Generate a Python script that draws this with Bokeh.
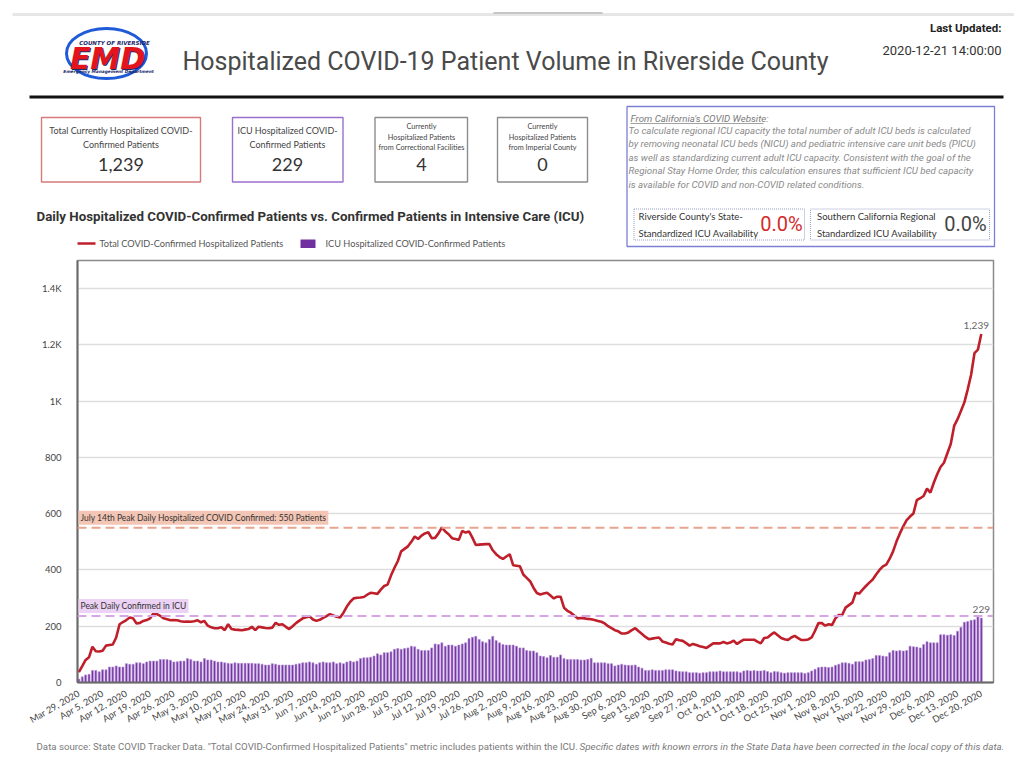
from bokeh.plotting import figure
from bokeh.layouts import column
from bokeh.models import Range1d, FixedTicker, Span, Label
from bokeh.core.properties import value
from bokeh.embed import file_html
from bokeh.resources import INLINE

# ---------------- data (daily, Mar 29 2020 .. Dec 20 2020) ----------------
hospitalized = [
    37, 58, 80, 90, 127, 111, 110,
    113, 131, 133, 135, 160, 207, 215,
    222, 231, 228, 210, 212, 219, 222,
    228, 246, 243, 237, 228, 225, 221,
    222, 221, 218, 216, 217, 216, 218,
    221, 214, 219, 202, 196, 193, 193,
    196, 186, 207, 190, 188, 187, 186,
    188, 190, 198, 186, 198, 196, 194,
    193, 195, 212, 205, 207, 198, 190,
    200, 211, 220, 228, 232, 235, 224,
    219, 223, 230, 236, 243, 238, 234,
    231, 248, 270, 287, 299, 301, 302,
    304, 312, 319, 317, 315, 330, 343,
    348, 380, 407, 431, 466, 475, 484,
    500, 519, 510, 522, 530, 534, 513,
    514, 530, 551, 537, 527, 513, 510,
    507, 539, 533, 537, 515, 489, 490,
    491, 492, 492, 470, 456, 446, 439,
    448, 456, 417, 415, 413, 384, 372,
    360, 337, 318, 313, 316, 319, 309,
    299, 305, 305, 266, 255, 248, 238,
    228, 229, 228, 226, 225, 222, 219,
    216, 210, 200, 193, 186, 182, 174,
    174, 178, 186, 193, 182, 172, 162,
    154, 156, 158, 160, 146, 142, 138,
    135, 154, 150, 148, 140, 131, 137,
    133, 129, 126, 123, 131, 139, 139,
    139, 144, 139, 142, 149, 137, 145,
    152, 152, 152, 152, 145, 139, 158,
    160, 170, 178, 168, 158, 154, 151,
    160, 166, 158, 151, 151, 153, 160,
    184, 211, 211, 202, 207, 204, 228,
    240, 240, 266, 275, 284, 319, 316,
    330, 343, 355, 366, 384, 400, 413,
    419, 440, 466, 501, 530, 555, 577,
    590, 601, 648, 655, 663, 689, 675,
    710, 740, 766, 781, 815, 848, 912,
    936, 965, 995, 1042, 1094, 1171, 1183,
    1239,
]

icu = [
    12, 20, 27, 29, 43, 43, 38, 45, 45, 55,
    55, 59, 55, 55, 67, 65, 65, 70, 70, 67,
    73, 76, 76, 76, 82, 82, 82, 79, 73, 74,
    76, 76, 85, 82, 76, 76, 73, 85, 80, 80,
    76, 73, 73, 70, 68, 67, 70, 68, 68, 68,
    68, 68, 67, 67, 65, 62, 62, 67, 65, 62,
    62, 62, 62, 62, 65, 67, 70, 70, 73, 70,
    65, 70, 73, 70, 70, 73, 67, 70, 67, 73,
    76, 73, 76, 85, 88, 88,
    90, 94, 102, 98, 106, 106, 109, 118, 121, 118,
    121, 123, 129, 127, 118, 114, 114, 114, 123, 137,
    135, 141, 129, 133, 133, 129, 133, 137, 141, 156,
    161, 164, 153, 145, 141, 153, 164, 149, 141, 135,
    133, 133, 133, 129, 123, 123, 114, 112, 112, 106,
    94, 92, 88, 96, 90, 90, 98, 85, 82, 82,
    82, 82, 80, 80, 82, 86, 70, 70, 70, 70,
    67, 67, 59, 62, 65, 62, 61, 61, 62, 55,
    51, 43, 43, 45, 43, 43,
    43, 45, 45, 45, 41, 39, 38, 38, 35, 35,
    35, 33, 35, 35, 38, 38, 38, 41, 38, 38,
    38, 38, 38, 35, 41, 43, 41, 43, 41, 41,
    43, 39, 35, 39, 38, 35, 33, 35, 35, 35,
    35, 35, 32, 35, 41, 47, 53, 55, 55, 53,
    55, 61, 65, 70, 70, 68, 65, 74, 74, 74,
    80, 82, 85, 96, 96, 94, 92, 106, 114, 112,
    114, 112, 114, 129, 127, 126, 123, 135, 145, 141,
    141, 141, 170, 170, 168, 170, 167, 182, 196, 214,
    217, 221, 223, 236, 229,
]

tick_labels = [
    "Mar 29, 2020", "Apr 5, 2020", "Apr 12, 2020", "Apr 19, 2020", "Apr 26, 2020",
    "May 3, 2020", "May 10, 2020", "May 17, 2020", "May 24, 2020", "May 31, 2020",
    "Jun 7, 2020", "Jun 14, 2020", "Jun 21, 2020", "Jun 28, 2020", "Jul 5, 2020",
    "Jul 12, 2020", "Jul 19, 2020", "Jul 26, 2020", "Aug 2, 2020", "Aug 9, 2020",
    "Aug 16, 2020", "Aug 23, 2020", "Aug 30, 2020", "Sep 6, 2020", "Sep 13, 2020",
    "Sep 20, 2020", "Sep 27, 2020", "Oct 4, 2020", "Oct 11, 2020", "Oct 18, 2020",
    "Oct 25, 2020", "Nov 1, 2020", "Nov 8, 2020", "Nov 15, 2020", "Nov 22, 2020",
    "Nov 29, 2020", "Dec 6, 2020", "Dec 13, 2020", "Dec 20, 2020",
]

y_ticks = [0, 200, 400, 600, 800, 1000, 1200, 1400]
y_tick_labels = ["0", "200", "400", "600", "800", "1K", "1.2K", "1.4K"]

peak_hosp = 550
peak_icu = 236
total_hosp_now = "1,239"
icu_now = "229"
correctional_now = "4"
imperial_now = "0"

days = list(range(len(hospitalized)))

RED = "#bf1f2a"
PURPLE = "#7030a0"
W = 1014


def txt(fig, x, y, s, size, color="#444444", font="Lato", align="left",
        style="normal", baseline="middle"):
    fig.text(x=[x], y=[y], text=[s], text_font=value(font),
             text_font_size=f"{size}px", text_color=color, text_align=align,
             text_baseline=baseline, text_font_style=style)


def panel(height, y0):
    f = figure(width=W, height=height, x_range=Range1d(0, W),
               y_range=Range1d(y0 + height, y0), x_axis_location=None,
               y_axis_location=None, min_border=0, toolbar_location=None,
               output_backend="svg")
    f.outline_line_color = None
    f.grid.visible = False
    f.frame_align = False
    return f


# ---------------- header ----------------
H1 = 256
h = panel(H1, 0)

h.line([12, 1014], [14, 14], line_color="#e6e6e6", line_width=3)
h.line([493, 602], [12.5, 12.5], line_color="#c6c6c6", line_width=2)

# logo
h.ellipse(x=[106], y=[53], width=[80], height=[50], fill_color=None,
          line_color="#1f5ad8", line_width=3)
txt(h, 108, 59, "EMD", 30, color="#1b2a6b", font="DejaVu Sans", align="center", style="bold italic")
txt(h, 107, 58, "EMD", 30, color="#e3141c", font="DejaVu Sans", align="center", style="bold italic")
txt(h, 114, 42.5, "COUNTY OF RIVERSIDE", 5.5, color="#1b2a6b", font="DejaVu Sans",
    align="center", style="bold italic")
txt(h, 108, 71, "Emergency Management Department", 4.3, color="#1b2a6b",
    font="DejaVu Sans", align="center", style="bold italic")

txt(h, 182, 61, "Hospitalized COVID-19 Patient Volume in Riverside County", 25,
    color="#4a4a4a", font="Roboto")
txt(h, 1001, 27, "Last Updated:", 11.5, color="#222222", font="Roboto", align="right", style="bold")
txt(h, 1001, 50, "2020-12-21 14:00:00", 13, color="#333333", font="Roboto", align="right")

h.line([29, 1003], [96.5, 96.5], line_color="#111111", line_width=3)

# KPI boxes
h.quad(left=[41], right=[200], top=[117], bottom=[181.5], fill_color=None,
       line_color="#d77a7a", line_width=1.4)
txt(h, 120.5, 129.5, "Total Currently Hospitalized COVID-", 9, align="center")
txt(h, 120.5, 144, "Confirmed Patients", 9, align="center")
txt(h, 120.5, 163.5, total_hosp_now, 18, color="#333333", align="center")

h.quad(left=[232], right=[342.5], top=[117], bottom=[181.5], fill_color=None,
       line_color="#9a6fd0", line_width=1.4)
txt(h, 287, 129.5, "ICU Hospitalized COVID-", 9, align="center")
txt(h, 287, 144, "Confirmed Patients", 9, align="center")
txt(h, 287, 163.5, icu_now, 18, color="#333333", align="center")

h.quad(left=[374.5], right=[467], top=[117], bottom=[181.5], fill_color=None,
       line_color="#8c8c8c", line_width=1.4)
txt(h, 421, 125.5, "Currently", 7.3, align="center")
txt(h, 421, 136.5, "Hospitalized Patients", 7.3, align="center")
txt(h, 421, 147, "from Correctional Facilities", 7.3, align="center")
txt(h, 421, 163.5, correctional_now, 18, color="#333333", align="center")

h.quad(left=[497], right=[587], top=[117], bottom=[181.5], fill_color=None,
       line_color="#8c8c8c", line_width=1.4)
txt(h, 542, 125.5, "Currently", 7.3, align="center")
txt(h, 542, 136.5, "Hospitalized Patients", 7.3, align="center")
txt(h, 542, 147, "from Imperial County", 7.3, align="center")
txt(h, 542, 163.5, imperial_now, 18, color="#333333", align="center")

# info box
h.quad(left=[626.5], right=[994], top=[106], bottom=[246], fill_color=None,
       line_color="#7b7fd6", line_width=1.3)
txt(h, 630, 117.5, "From California's COVID Website:", 9.7, color="#7a7a7a",
    font="Roboto", style="italic")
h.line([630, 763], [123, 123], line_color="#8a8a8a", line_width=0.8)
info_lines = [
    "To calculate regional ICU capacity the total number of adult ICU beds is calculated",
    "by removing neonatal ICU beds (NICU) and pediatric intensive care unit beds (PICU)",
    "as well as standardizing current adult ICU capacity. Consistent with the goal of the",
    "Regional Stay Home Order, this calculation ensures that sufficient ICU bed capacity",
    "is available for COVID and non-COVID related conditions.",
]
for i, s in enumerate(info_lines):
    txt(h, 628, 129.5 + i * 13.5, s, 9.7, color="#8a8a8a", font="Roboto", style="italic")

h.quad(left=[633.5], right=[804], top=[208.5], bottom=[239.5], fill_color=None,
       line_color="#9aa0c8", line_width=1, line_dash="1 1")
txt(h, 638, 216, "Riverside County's State-", 9.5, color="#333333")
txt(h, 638, 233, "Standardized ICU Availability", 9.5, color="#333333")
txt(h, 781, 223, "0.0%", 20, color="#d42a2a", font="Roboto", align="center")

h.quad(left=[810], right=[989], top=[208.5], bottom=[239.5], fill_color=None,
       line_color="#9aa0c8", line_width=1, line_dash="1 1")
txt(h, 816.5, 216, "Southern California Regional", 9.5, color="#333333")
txt(h, 816.5, 233, "Standardized ICU Availability", 9.5, color="#333333")
txt(h, 965, 223, "0.0%", 20, color="#444444", font="Roboto", align="center")

# chart title & legend
txt(h, 36, 216, "Daily Hospitalized COVID-Confirmed Patients vs. Confirmed Patients in Intensive Care (ICU)",
    13.3, color="#333333", font="Roboto", style="bold")
h.line([77, 95], [243, 243], line_color=RED, line_width=2.5)
txt(h, 99, 243, "Total COVID-Confirmed Hospitalized Patients", 9.2, color="#555555")
h.quad(left=[300], right=[315], top=[239], bottom=[247.5], fill_color=PURPLE,
       line_color=None)
txt(h, 325, 243, "ICU Hospitalized COVID-Confirmed Patients", 9.2, color="#555555")

# ---------------- chart ----------------
p = figure(width=W, height=477, x_range=Range1d(-0.4, 269.6),
           y_range=Range1d(0, 1500), toolbar_location=None, output_backend="svg",
           min_border_left=77, min_border_right=21, min_border_top=4,
           min_border_bottom=48)
p.frame_align = False
p.outline_line_color = "#8a8a8a"
p.outline_line_width = 1.5
p.xgrid.visible = False
p.ygrid.grid_line_color = "#dedede"
p.ygrid.grid_line_width = 1.5

p.vbar(x=days, top=icu, width=0.58, fill_color=PURPLE, line_color="#b894d8",
       line_width=0.7)
p.line(days, hospitalized, line_color=RED, line_width=2.6)

p.add_layout(Span(location=peak_hosp, dimension="width", line_color="#e8a48e",
                  line_dash="9 5", line_width=2))
p.add_layout(Span(location=peak_icu, dimension="width", line_color="#d7a6e6",
                  line_dash="9 5", line_width=2))
p.add_layout(Label(x=-0.4, y=peak_hosp, y_offset=3, x_offset=1,
                   text="July 14th Peak Daily Hospitalized COVID Confirmed: 550 Patients",
                   text_font="Lato", text_font_size="8.5px", text_color="#333333",
                   text_baseline="bottom", background_fill_color="#f3c5b4",
                   padding=2))
p.add_layout(Label(x=-0.4, y=peak_icu, y_offset=3, x_offset=1,
                   text="Peak Daily Confirmed in ICU",
                   text_font="Lato", text_font_size="8.5px", text_color="#333333",
                   text_baseline="bottom", background_fill_color="#ecd2f4",
                   padding=2))
p.add_layout(Label(x=days[-1], y=hospitalized[-1], x_offset=-5, y_offset=5,
                   text=f"{hospitalized[-1]:,}", text_font="Lato",
                   text_font_size="10px", text_color="#666666", text_align="center",
                   text_baseline="bottom"))
p.add_layout(Label(x=days[-1], y=icu[-1], x_offset=0, y_offset=5,
                   text=f"{icu[-1]:,}", text_font="Lato",
                   text_font_size="10px", text_color="#666666", text_align="center",
                   text_baseline="bottom"))

x_ticks = [i * 7 for i in range(len(tick_labels))]
p.xaxis.ticker = FixedTicker(ticks=x_ticks)
p.xaxis.major_label_overrides = {t: s for t, s in zip(x_ticks, tick_labels)}
p.xaxis.major_label_orientation = 0.52
p.yaxis.ticker = FixedTicker(ticks=y_ticks)
p.yaxis.major_label_overrides = {t: s for t, s in zip(y_ticks, y_tick_labels)}
for ax in (p.xaxis, p.yaxis):
    ax.major_tick_line_color = None
    ax.minor_tick_line_color = None
    ax.axis_line_color = "#6a6a6a"
    ax.axis_line_width = 2
    ax.major_label_text_font = "Lato"
    ax.major_label_text_color = "#444444"
p.xaxis.major_label_text_font_size = "9.3px"
p.xaxis.major_label_standoff = 4
p.yaxis.major_label_text_font_size = "9.5px"
p.yaxis.major_label_standoff = 10

# ---------------- footer ----------------
f = panel(24, 733)
txt(f, 36, 746, 'Data source: State COVID Tracker Data. "Total COVID-Confirmed Hospitalized Patients" metric includes patients within the ICU.',
    9.7, color="#7a7a7a", font="Roboto")
txt(f, 579, 746, "Specific dates with known errors in the State Data have been corrected in the local copy of this data.",
    9.9, color="#7a7a7a", font="Roboto", style="italic")

layout = column(h, p, f, spacing=0)
open("out.html", "w").write(file_html(layout, INLINE, "Hospitalized COVID-19 Patient Volume"))
